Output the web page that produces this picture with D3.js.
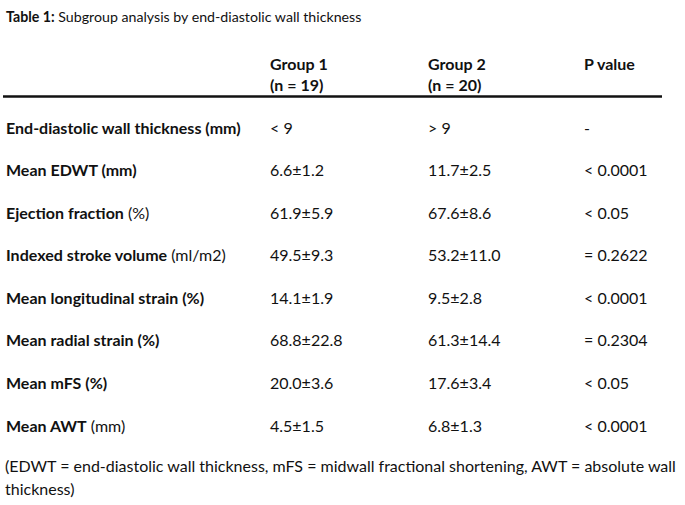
<!DOCTYPE html>
<html>
<head>
<meta charset="utf-8">
<script src="https://cdn.jsdelivr.net/npm/d3@7"></script>
<style>
  body { margin: 0; background: #fff; }
  text { font-family: Lato, "Open Sans", sans-serif; fill: #111; font-size: 16px; }
</style>
</head>
<body>
<script>
var width = 685
var height = 505

// row labels: bold part + plain part
var labelBold = ['End-diastolic wall thickness (mm)', 'Mean EDWT (mm)', 'Ejection fraction',
                 'Indexed stroke volume', 'Mean longitudinal strain (%)', 'Mean radial strain (%)',
                 'Mean mFS (%)', 'Mean AWT']
var labelPlain = ['', '', ' (%)', ' (ml/m2)', '', '', '', ' (mm)']
var group1 = ['< 9', '6.6±1.2', '61.9±5.9', '49.5±9.3', '14.1±1.9', '68.8±22.8', '20.0±3.6', '4.5±1.5']
var group2 = ['> 9', '11.7±2.5', '67.6±8.6', '53.2±11.0', '9.5±2.8', '61.3±14.4', '17.6±3.4', '6.8±1.3']
var pvals = ['-', '< 0.0001', '< 0.05', '= 0.2622', '< 0.0001', '= 0.2304', '< 0.05', '< 0.0001']

var columns = ['label', 'g1', 'g2', 'p']
var headers = [['', ''], ['Group 1', '(n = 19)'], ['Group 2', '(n = 20)'], ['P value', '']]
var footnote = ['(EDWT = end-diastolic wall thickness, mFS = midwall fractional shortening, AWT = absolute wall',
                'thickness)']

var svg = d3.select('body')
      .append('svg')
      .attr('width', width)
      .attr('height', height)

var x = d3.scaleOrdinal()
      .domain(columns)
      .range([6, 270, 428, 584])

var y = d3.scalePoint()
      .domain(d3.range(labelBold.length))
      .range([128, 426])

var title = svg.append('text')
      .attr('x', 6)
      .attr('y', 22)
      .style('font-size', '14.2px')
title.append('tspan').attr('font-weight', 'bold').text('Table 1:')
title.append('tspan').text(' Subgroup analysis by end-diastolic wall thickness')

// header
headers.forEach(function(h, i){
  h.forEach(function(t, j){
    svg.append('text')
      .attr('x', x(columns[i]))
      .attr('y', 70 + j * 21)
      .attr('font-weight', 'bold')
      .text(t)
  })
})

svg.append('line')
      .attr('x1', 3)
      .attr('x2', 662)
      .attr('y1', 96.5)
      .attr('y2', 96.5)
      .attr('stroke', '#111')
      .attr('stroke-width', 2.7)

var rows = svg.selectAll('g.row')
      .data(d3.range(labelBold.length))
      .enter()
      .append('g')
      .attr('class', 'row')
      .attr('transform', function(d){ return 'translate(0,' + (y(d) + 5.5) + ')' })

var lab = rows.append('text')
      .attr('x', x('label'))
lab.append('tspan').attr('font-weight', 'bold').text(function(d){ return labelBold[d] })
lab.append('tspan').text(function(d){ return labelPlain[d] })

rows.append('text')
      .attr('x', x('g1'))
      .text(function(d){ return group1[d] })

rows.append('text')
      .attr('x', x('g2'))
      .text(function(d){ return group2[d] })

rows.append('text')
      .attr('x', x('p'))
      .text(function(d){ return pvals[d] })

svg.selectAll('text.foot')
      .data(footnote)
      .enter()
      .append('text')
      .attr('class', 'foot')
      .attr('x', 5)
      .attr('y', function(d, i){ return 471.5 + i * 23 })
      .text(function(d){ return d })
</script>
</body>
</html>
